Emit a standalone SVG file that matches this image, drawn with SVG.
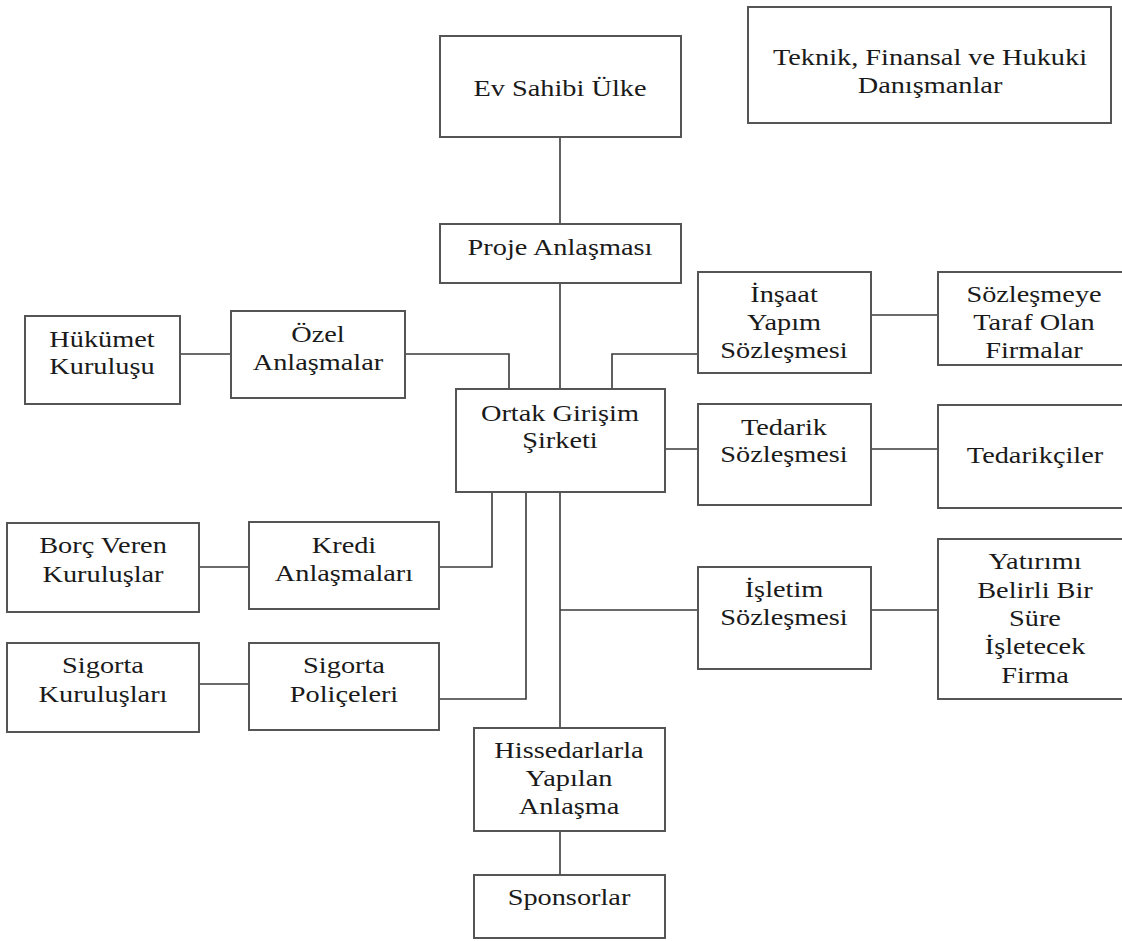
<svg xmlns="http://www.w3.org/2000/svg" width="1122" height="941" viewBox="0 0 1122 941">
<style>
.box{fill:#ffffff;stroke:#555555;stroke-width:2}
.lbl{font-family:"Liberation Serif","Times New Roman",serif;font-size:24px;fill:#1a1a1a;text-anchor:middle}
.con{fill:none;stroke:#3a3a3a;stroke-width:1.6}
</style>
<rect width="1122" height="941" fill="#ffffff"/>
<g id="connectors">
<path class="con" d="M560,137 V224"/>
<path class="con" d="M560,283 V389"/>
<path class="con" d="M180,354 H231"/>
<path class="con" d="M405,354 H509 V389"/>
<path class="con" d="M698,354 H612 V389"/>
<path class="con" d="M871,315 H938"/>
<path class="con" d="M665,449 H698"/>
<path class="con" d="M871,449 H938"/>
<path class="con" d="M492,492 V567 H439"/>
<path class="con" d="M199,567 H249"/>
<path class="con" d="M526,492 V699 H439"/>
<path class="con" d="M199,684 H249"/>
<path class="con" d="M560,492 V728"/>
<path class="con" d="M560,610 H698"/>
<path class="con" d="M871,610 H938"/>
<path class="con" d="M560,831 V875"/>
</g>
<g id="ev-sahibi">
<rect class="box" x="440" y="36" width="241" height="101"/>
<text class="lbl" transform="translate(560,96) scale(1.18,1)">Ev Sahibi Ülke</text>
</g>
<g id="danismanlar">
<rect class="box" x="748" y="7" width="363" height="116"/>
<text class="lbl" transform="translate(930,65) scale(1.18,1)">Teknik, Finansal ve Hukuki</text>
<text class="lbl" transform="translate(930,93) scale(1.18,1)">Danışmanlar</text>
</g>
<g id="proje">
<rect class="box" x="440" y="224" width="241" height="59"/>
<text class="lbl" transform="translate(560,255) scale(1.18,1)">Proje Anlaşması</text>
</g>
<g id="hukumet">
<rect class="box" x="25" y="316" width="155" height="88"/>
<text class="lbl" transform="translate(102,347) scale(1.18,1)">Hükümet</text>
<text class="lbl" transform="translate(102,374) scale(1.18,1)">Kuruluşu</text>
</g>
<g id="ozel">
<rect class="box" x="231" y="311" width="174" height="87"/>
<text class="lbl" transform="translate(318,342) scale(1.18,1)">Özel</text>
<text class="lbl" transform="translate(318,370) scale(1.18,1)">Anlaşmalar</text>
</g>
<g id="ortak">
<rect class="box" x="456" y="389" width="209" height="103"/>
<text class="lbl" transform="translate(560,421) scale(1.18,1)">Ortak Girişim</text>
<text class="lbl" transform="translate(560,448) scale(1.18,1)">Şirketi</text>
</g>
<g id="insaat">
<rect class="box" x="698" y="272" width="173" height="101"/>
<text class="lbl" transform="translate(784,302) scale(1.18,1)">İnşaat</text>
<text class="lbl" transform="translate(784,330) scale(1.18,1)">Yapım</text>
<text class="lbl" transform="translate(784,358) scale(1.18,1)">Sözleşmesi</text>
</g>
<g id="firmalar">
<rect class="box" x="938" y="272" width="194" height="93"/>
<text class="lbl" transform="translate(1034,302) scale(1.18,1)">Sözleşmeye</text>
<text class="lbl" transform="translate(1034,330) scale(1.18,1)">Taraf Olan</text>
<text class="lbl" transform="translate(1034,358) scale(1.18,1)">Firmalar</text>
</g>
<g id="tedarik">
<rect class="box" x="698" y="404" width="173" height="101"/>
<text class="lbl" transform="translate(784,435) scale(1.18,1)">Tedarik</text>
<text class="lbl" transform="translate(784,462) scale(1.18,1)">Sözleşmesi</text>
</g>
<g id="tedarikciler">
<rect class="box" x="938" y="405" width="194" height="103"/>
<text class="lbl" transform="translate(1035,463) scale(1.18,1)">Tedarikçiler</text>
</g>
<g id="borc">
<rect class="box" x="7" y="523" width="192" height="89"/>
<text class="lbl" transform="translate(103,553) scale(1.18,1)">Borç Veren</text>
<text class="lbl" transform="translate(103,582) scale(1.18,1)">Kuruluşlar</text>
</g>
<g id="kredi">
<rect class="box" x="249" y="522" width="190" height="87"/>
<text class="lbl" transform="translate(344,553) scale(1.18,1)">Kredi</text>
<text class="lbl" transform="translate(344,581) scale(1.18,1)">Anlaşmaları</text>
</g>
<g id="isletim">
<rect class="box" x="698" y="567" width="173" height="102"/>
<text class="lbl" transform="translate(784,597) scale(1.18,1)">İşletim</text>
<text class="lbl" transform="translate(784,625) scale(1.18,1)">Sözleşmesi</text>
</g>
<g id="yatirimi">
<rect class="box" x="938" y="539" width="194" height="160"/>
<text class="lbl" transform="translate(1035,569) scale(1.18,1)">Yatırımı</text>
<text class="lbl" transform="translate(1035,598) scale(1.18,1)">Belirli Bir</text>
<text class="lbl" transform="translate(1035,626) scale(1.18,1)">Süre</text>
<text class="lbl" transform="translate(1035,654) scale(1.18,1)">İşletecek</text>
<text class="lbl" transform="translate(1035,683) scale(1.18,1)">Firma</text>
</g>
<g id="sigorta-kurulus">
<rect class="box" x="7" y="643" width="192" height="89"/>
<text class="lbl" transform="translate(103,673) scale(1.18,1)">Sigorta</text>
<text class="lbl" transform="translate(103,702) scale(1.18,1)">Kuruluşları</text>
</g>
<g id="sigorta-police">
<rect class="box" x="249" y="643" width="190" height="87"/>
<text class="lbl" transform="translate(344,673) scale(1.18,1)">Sigorta</text>
<text class="lbl" transform="translate(344,702) scale(1.18,1)">Poliçeleri</text>
</g>
<g id="hissedarlar">
<rect class="box" x="474" y="728" width="191" height="103"/>
<text class="lbl" transform="translate(569,758) scale(1.18,1)">Hissedarlarla</text>
<text class="lbl" transform="translate(569,786) scale(1.18,1)">Yapılan</text>
<text class="lbl" transform="translate(569,814) scale(1.18,1)">Anlaşma</text>
</g>
<g id="sponsorlar">
<rect class="box" x="474" y="875" width="191" height="63"/>
<text class="lbl" transform="translate(569,905) scale(1.18,1)">Sponsorlar</text>
</g>
</svg>
